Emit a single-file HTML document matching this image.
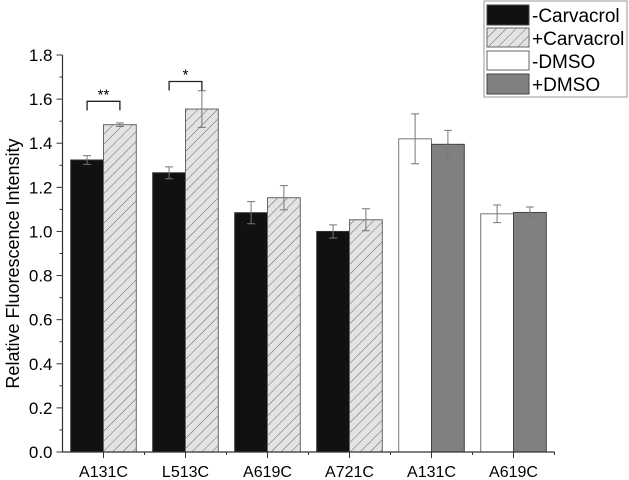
<!DOCTYPE html>
<html><head><meta charset="utf-8"><style>
body{margin:0;background:#fff}
svg{display:block;font-family:"Liberation Sans",sans-serif}
</style></head><body>
<svg id="chart" width="629" height="480">
<defs>
<pattern id="hatch" patternUnits="userSpaceOnUse" width="7" height="7" patternTransform="rotate(45)">
<rect width="7" height="7" fill="#e3e3e3"/>
<line x1="0" y1="0" x2="0" y2="7" stroke="#666" stroke-width="1"/>
</pattern>
</defs>
<g id="plot"></g>
<g>
<rect x="484" y="1" width="143" height="96" fill="#fff" stroke="#999" stroke-width="1"/>
<rect x="487" y="5" width="42" height="20" fill="#111" stroke="#444"/>
<text x="532" y="22" font-size="19">-Carvacrol</text>
<rect x="487" y="28" width="42" height="19" fill="url(#hatch)" stroke="#666"/>
<text x="532" y="45" font-size="19">+Carvacrol</text>
<rect x="487" y="51" width="42" height="19" fill="#fff" stroke="#666"/>
<text x="532" y="68" font-size="19">-DMSO</text>
<rect x="487" y="74" width="42" height="20" fill="#808080" stroke="#444"/>
<text x="532" y="91" font-size="19">+DMSO</text>
</g>
</svg>
<script>
const categories=["A131C","L513C","A619C","A721C","A131C","A619C"];
const leftValues=[1.324,1.266,1.085,1.0,1.42,1.08];
const leftErrors=[0.02,0.027,0.05,0.03,0.113,0.04];
const rightValues=[1.484,1.555,1.153,1.053,1.395,1.086];
const rightErrors=[0.008,0.083,0.055,0.05,0.063,0.025];
const yTicks=[0,0.2,0.4,0.6,0.8,1.0,1.2,1.4,1.6,1.8];
const sigLabels=["**","*"];
const sigHeights=[1.59,1.68];

const NS="http://www.w3.org/2000/svg";
const g=document.getElementById('plot');
const x0=62.5,x1=554.5,y0=452,yTop=55,yMax=1.8;
const sx=i=>x0+(i+0.5)*(x1-x0)/categories.length;
const step=(x1-x0)/categories.length;
const sy=v=>y0-(v/yMax)*(y0-yTop);
function mk(t,a){const e=document.createElementNS(NS,t);for(const k in a)e.setAttribute(k,a[k]);g.appendChild(e);return e;}
const bw=step*0.4;
function errBar(cx,v,e){
 const l=mk('path',{d:`M${cx},${sy(v+e)}V${sy(v-e)}M${cx-4},${sy(v+e)}H${cx+4}M${cx-4},${sy(v-e)}H${cx+4}`,stroke:'#777','stroke-width':1,fill:'none'});
 
 
}
categories.forEach((c,i)=>{
 const cx=sx(i);const dmso=i>=4;
 const r1=mk('rect',{x:cx-bw,y:sy(leftValues[i]),width:bw,height:y0-sy(leftValues[i]),fill:dmso?'#fff':'#111',stroke:dmso?'#777':'#333','stroke-width':1});
 
 
 const r2=mk('rect',{x:cx,y:sy(rightValues[i]),width:bw,height:y0-sy(rightValues[i]),fill:dmso?'#808080':'url(#hatch)',stroke:dmso?'#444':'#666','stroke-width':1});
 
 
 errBar(cx-bw/2,leftValues[i],leftErrors[i]);
 errBar(cx+bw/2,rightValues[i],rightErrors[i]);
 const t=mk('text',{x:cx,y:477,'font-size':16,'text-anchor':'middle'});t.textContent=c;
 
 
 mk('line',{x1:cx,x2:cx,y1:y0,y2:y0+6,stroke:'#333'});
 mk('line',{x1:cx+step/2,x2:cx+step/2,y1:y0,y2:y0+3,stroke:'#333'});
});
sigLabels.forEach((s,i)=>{
 const cx=sx(i);const y=sy(sigHeights[i]);
 const p=mk('path',{d:`M${cx-bw/2},${y+9}V${y}H${cx+bw/2}V${y+9}`,stroke:'#222','stroke-width':1.3,fill:'none'});
 
 
 const t=mk('text',{x:cx,y:y-2,'font-size':15,'text-anchor':'middle'});t.textContent=s;
 
 
});
yTicks.forEach(v=>{
 mk('line',{x1:x0-6,x2:x0,y1:sy(v),y2:sy(v),stroke:'#333'});
 const t=mk('text',{x:x0-10,y:sy(v)+6,'font-size':17,'text-anchor':'end'});t.textContent=v.toFixed(1);
 
 
});
for(let k=0;k<yTicks.length-1;k++){const v=(yTicks[k]+yTicks[k+1])/2;mk('line',{x1:x0-3,x2:x0,y1:sy(v),y2:sy(v),stroke:'#333'});}
const ax=mk('path',{d:`M${x0},${yTop}V${y0}H${x1}`,stroke:'#333','stroke-width':1.2,fill:'none'});


const yt=mk('text',{x:0,y:0,'font-size':18,'text-anchor':'middle',transform:`translate(19,${(y0+yTop)/2+10}) rotate(-90)`});
yt.textContent='Relative Fluorescence Intensity';


</script>
</body></html>
